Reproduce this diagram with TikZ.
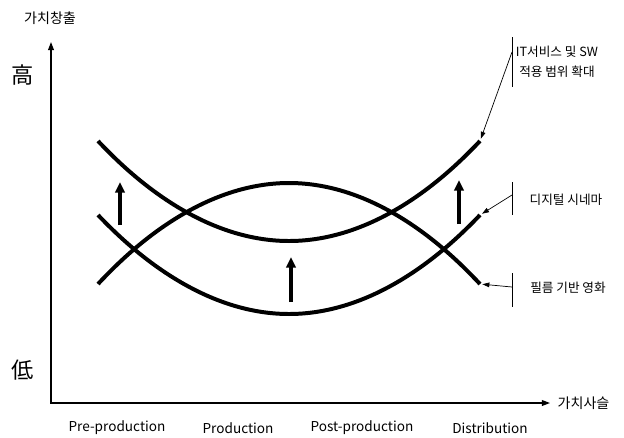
\documentclass[tikz,border=0pt]{standalone}
\usepackage{fontspec}
\setmainfont{Noto Sans CJK KR}
\usetikzlibrary{arrows.meta,positioning}

\begin{document}
\begin{tikzpicture}[
    x=0.03cm, y=-0.03cm,
    >=Latex,
    axis/.style={{Triangle[length=7pt,width=5pt]}-{Triangle[length=7pt,width=5pt]}, line width=1.1pt},
    curve/.style={line width=3.4pt},
    up/.style={-{Triangle[length=9pt,width=8pt]}, line width=2.6pt},
    note/.style={-{Triangle[length=6pt,width=4pt]}, line width=0.6pt, shorten >=2pt},
    bar/.style={line width=0.6pt},
    axlbl/.style={font=\fontsize{12}{14}\selectfont},
    big/.style={font=\fontsize{19}{21}\selectfont},
    lbl/.style={font=\fontsize{10.8}{17}\selectfont, align=center},
    stage/.style={font=\fontsize{11.6}{13}\selectfont}
]
    \useasboundingbox (0,0) rectangle (624,437);

    % axes
    \coordinate (o) at (51,403);
    \coordinate (ytip) at (51,42);
    \coordinate (xtip) at (550,403);
    \draw[axis] (ytip) -- (o) -- (xtip);
    \node[axlbl] (yname) at (50,18) {가치창출};
    \node[axlbl, right=3pt of xtip] (xname) {가치사슬};
    \node[big] (hi) at (23,75) {高};
    \node[big] (lo) at (23,370) {低};

    \node[stage] (pre) at (117,428) {Pre-production};
    \node[stage] (prod) at (238,428) {Production};
    \node[stage] (post) at (362,428) {Post-production};
    \node[stage] (dist) at (490,428) {Distribution};

    % curves
    \coordinate (it0) at (98,141);   \coordinate (it1) at (480,141);
    \coordinate (dc0) at (98,215);   \coordinate (dc1) at (480,215);
    \coordinate (fm0) at (98,284);   \coordinate (fm1) at (480,284);
    \draw[curve] (it0) parabola bend (289,241) (it1);
    \draw[curve] (dc0) parabola bend (289,314) (dc1);
    \draw[curve] (fm0) parabola bend (289,183) (fm1);

    % shifts
    \draw[up] (120,225) -- (120,182);
    \draw[up] (291,302) -- (291,257);
    \draw[up] (459,224) -- (459,180);

    % labels
    \draw[bar] (512,37) -- (512,87);
    \node[lbl] (itlbl) at (557,62) {IT서비스 및 SW\\적용 범위 확대};
    \coordinate (itfrom) at (512,52);
    \draw[note] (itfrom) -- (it1);

    \draw[bar] (512,182) -- (512,215);
    \node[lbl] (dclbl) at (566,200) {디지털 시네마};
    \coordinate (dcfrom) at (512,195);
    \draw[note] (dcfrom) -- (dc1);

    \draw[bar] (512,273) -- (512,307);
    \node[lbl] (fmlbl) at (568,288) {필름 기반 영화};
    \coordinate (fmfrom) at (512,287);
    \draw[note] (fmfrom) -- (fm1);
\end{tikzpicture}
\end{document}
